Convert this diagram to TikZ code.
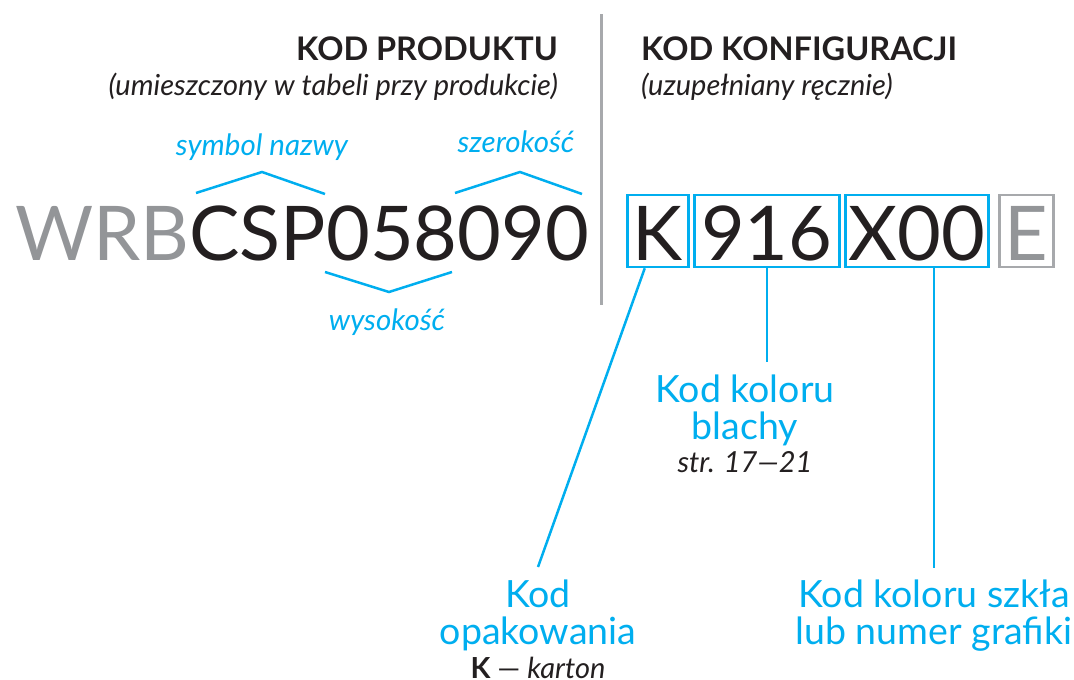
\documentclass[tikz,border=0pt]{standalone}
\usepackage{fontspec}
\setmainfont{Lato}
\usepackage{tikz}
\usetikzlibrary{shapes,arrows}
\definecolor{cyanline}{HTML}{00AEEF}
\definecolor{darktext}{HTML}{231F20}
\definecolor{greytext}{HTML}{939598}
\definecolor{greyrule}{HTML}{A7A9AC}
\newcommand{\codefont}{\fontsize{75.5}{80}\selectfont}

\begin{document}
\begin{tikzpicture}[x=1pt, y=-1pt, inner sep=0pt, text=darktext,
    link/.style={draw=cyanline, line width=2.5pt},
    codebox/.style={draw=cyanline, line width=2.5pt, text height=65pt, text depth=7pt, font=\codefont},
    head/.style={font=\fontsize{32.5}{36}\selectfont\bfseries},
    sub/.style={font=\fontsize{29}{33}\selectfont\itshape},
    tag/.style={text=cyanline, font=\fontsize{29.5}{33}\selectfont\itshape},
    part/.style={text=cyanline, align=center, font=\fontsize{37.5}{37}\selectfont},
    note/.style={font=\fontsize{29}{33}\selectfont\itshape}]

\useasboundingbox (0,0) rectangle (1074,680);
%\draw [color=black,thin](0,0) rectangle (1074,680);

\draw
    node at(558,60)[anchor=base east,head,name=prodhead]{KOD PRODUKTU}
    node at(558,95)[anchor=base east,sub,name=prodsub]{(umieszczony w tabeli przy produkcie)}

    node at(641,60)[anchor=base west,head,name=confhead]{KOD KONFIGURACJI}
    node at(641,95)[anchor=base west,sub,name=confsub]{(uzupełniany ręcznie)}

    node at(262,155)[anchor=base,tag,name=symbol]{symbol nazwy}
    node at(516,152)[anchor=base,tag,name=width]{szerokość}
    node at(387,330)[anchor=base,tag,name=height]{wysokość}

    node at(15,260)[anchor=base west,font=\codefont,name=prodcode]{\textcolor{greytext}{WRB}CSP058090}

    node at(626,260)[anchor=base west,codebox,minimum width=61pt,name=kbox]{K}
    node at([xshift=3.5pt]kbox.east)[anchor=west,codebox,minimum width=145pt,name=cbox]{916}
    node at([xshift=3.5pt]cbox.east)[anchor=west,codebox,minimum width=143pt,name=xbox]{X00}
    node at([xshift=8.5pt]xbox.east)[anchor=west,codebox,draw=greyrule,text=greytext,minimum width=54pt,name=ebox]{E}

    node at(745,375)[anchor=north,part,name=blacha]{Kod koloru\\blachy}
    node at(745,472)[anchor=base,note,name=pages]{str. 17---21}

    node at(538,580)[anchor=north,part,name=opak]{Kod\\opakowania}
    node at(538,678)[anchor=base,note,name=karton]{\textbf{\textup{K}} \textup{---} karton}

    node at(934,580)[anchor=north,part,name=szklo]{Kod koloru szkła\\lub numer grafiki}
;
    \draw[greyrule, line width=3pt](601,14) -- (601,305);

    \draw[link](196,193) -- (262,172) -- (325,194);
    \draw[link](455,193) -- (520,172) -- (582,194);
    \draw[link](325,272) -- (389,292) -- (452,272);

    \draw[link]([xshift=-13pt]kbox.south) -- ([yshift=13pt]opak.north);
    \draw[link](cbox.south) -- ([yshift=13pt]cbox.south |- blacha.north);
    \draw[link](xbox.south -| szklo.north) -- ([yshift=12pt]szklo.north);

\end{tikzpicture}
\end{document}
